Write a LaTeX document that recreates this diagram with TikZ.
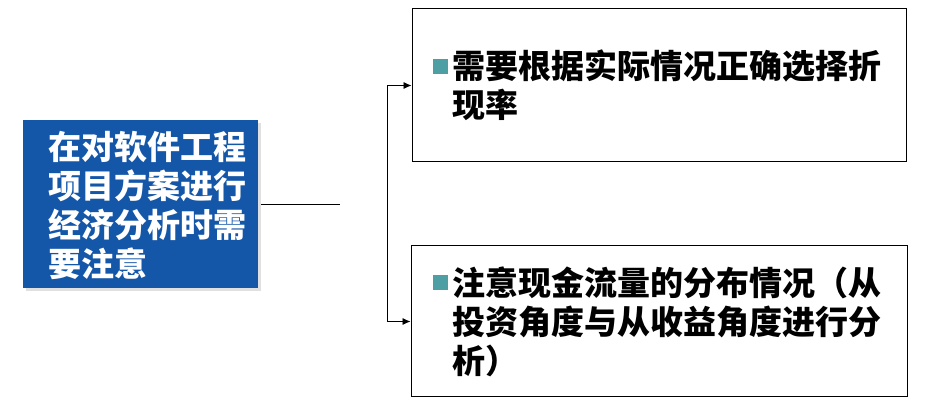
\documentclass[tikz,border=0pt]{standalone}
\usepackage{fontspec}
\newfontfamily\cjk{Noto Sans CJK SC}[BoldFont={Noto Sans CJK SC Black}]
\usetikzlibrary{arrows.meta,positioning,shadows}
\definecolor{boxblue}{HTML}{1456A8}
\definecolor{bullteal}{HTML}{4D9FA3}
\newcommand{\sqbul}{\makebox[20pt][l]{\textcolor{bullteal}{\rule[5pt]{15pt}{15pt}}}}

\begin{document}
\begin{tikzpicture}[x=1pt,y=-1pt,
  goal/.style={fill=boxblue,minimum width=235pt,minimum height=168pt,inner sep=0pt,
    drop shadow={shadow xshift=3pt,shadow yshift=-3pt,fill=black!12,opacity=1}},
  goaltext/.style={text=white,font=\cjk\bfseries\fontsize{33}{39}\selectfont,align=left,inner sep=0pt},
  point/.style={draw,line width=1pt,text width=453pt,inner xsep=20.5pt,inner ysep=0pt,align=left,
    font=\cjk\bfseries\fontsize{33}{39}\selectfont},
  link/.style={line width=0.8pt}]
  \useasboundingbox (0,0) rectangle (927,403);
  % Define the blue box on the left
  \path (140.5,204) node[goal] (goal) {};
  \path (48,205) node[goaltext,anchor=west] (goaltext) {在对软件工程\\项目方案进行\\经济分析时需\\要注意};
  % Define the two boxes on the right
  \path (659,85.5) node[point,minimum height=153pt] (rate) {\sqbul 需要根据实际情况正确选择折\\\hspace*{20pt}现率};
  \path (659,321.5) node[point,inner xsep=21.5pt,minimum height=151pt] (flow) {\sqbul 注意现金流量的分布情况（从\\\hspace*{20pt}投资角度与从收益角度进行分\\\hspace*{20pt}析）};
  \coordinate (stub) at (340,204);
  \coordinate (split) at (387,204);
  % Draw the connectors
  \draw[link] ([xshift=3pt]goal.east) -- (stub);
  \draw[link,-{Latex[length=8pt,width=7pt]}] (split) |- (rate.west);
  \draw[link,-{Latex[length=8pt,width=7pt]}] (split) |- (flow.west);
\end{tikzpicture}
\end{document}
